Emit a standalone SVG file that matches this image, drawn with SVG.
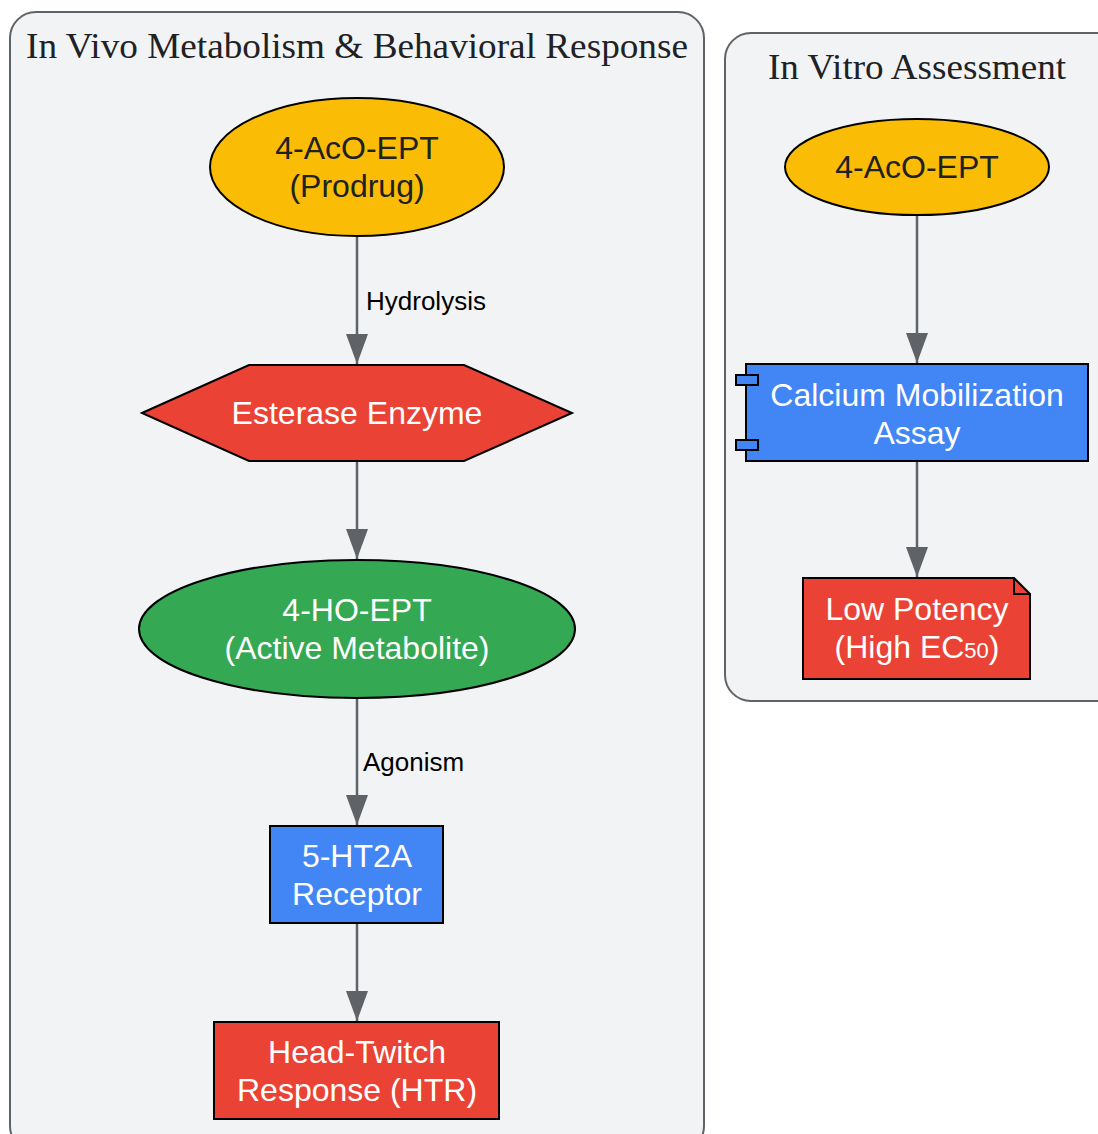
<svg xmlns="http://www.w3.org/2000/svg" width="1098" height="1134" viewBox="0 0 1098 1134">
<defs>
<style>
.cluster{fill:#f1f3f4;stroke:#5f6368;stroke-width:2}
.ctitle{font-family:"Liberation Serif",serif;font-size:36px;fill:#202124;text-anchor:middle}
.node{stroke:#000;stroke-width:2}
.lbl{font-family:"Liberation Sans",Arial,sans-serif;font-size:32px;text-anchor:middle}
.dark{fill:#202124}
.light{fill:#ffffff}
.edge{stroke:#5f6368;stroke-width:2.5;fill:none}
.elbl{font-family:"Liberation Sans",Arial,sans-serif;font-size:26px;fill:#000}
</style>
<marker id="arrow" viewBox="0 0 30 22" refX="30" refY="11" markerWidth="30" markerHeight="22" markerUnits="userSpaceOnUse" orient="auto">
<path d="M0,0 L30,11 L0,22 z" fill="#5f6368"/>
</marker>
</defs>
<g id="clusters">
<rect id="cluster_invivo" class="cluster" x="10" y="12" width="694" height="1140" rx="26"/>
<text class="ctitle" x="357" y="58" textLength="662" lengthAdjust="spacingAndGlyphs">In Vivo Metabolism &amp; Behavioral Response</text>
<rect id="cluster_invitro" class="cluster" x="725" y="33" width="400" height="668" rx="26"/>
<text class="ctitle" x="917" y="79" textLength="298" lengthAdjust="spacingAndGlyphs">In Vitro Assessment</text>
</g>
<g id="edges">
<line class="edge" x1="357" y1="236" x2="357" y2="364" marker-end="url(#arrow)"/>
<text class="elbl" x="366" y="310">Hydrolysis</text>
<line class="edge" x1="357" y1="461" x2="357" y2="559" marker-end="url(#arrow)"/>
<line class="edge" x1="357" y1="698" x2="357" y2="825" marker-end="url(#arrow)"/>
<text class="elbl" x="363" y="771">Agonism</text>
<line class="edge" x1="357" y1="923" x2="357" y2="1021" marker-end="url(#arrow)"/>
<line class="edge" x1="917" y1="215" x2="917" y2="363" marker-end="url(#arrow)"/>
<line class="edge" x1="917" y1="461" x2="917" y2="577" marker-end="url(#arrow)"/>
</g>
<g id="n_prodrug">
<ellipse class="node" cx="357" cy="167" rx="147" ry="69" fill="#fbbc05"/>
<text class="lbl dark" x="357" y="159">4-AcO-EPT</text>
<text class="lbl dark" x="357" y="197">(Prodrug)</text>
</g>
<g id="n_esterase">
<polygon class="node" points="142,413 249,365 464,365 572,413 464,461 249,461" fill="#ea4335"/>
<text class="lbl light" x="357" y="424">Esterase Enzyme</text>
</g>
<g id="n_active">
<ellipse class="node" cx="357" cy="629" rx="218" ry="69" fill="#34a853"/>
<text class="lbl light" x="357" y="621">4-HO-EPT</text>
<text class="lbl light" x="357" y="659">(Active Metabolite)</text>
</g>
<g id="n_receptor">
<rect class="node" x="270" y="826" width="173" height="97" fill="#4285f4"/>
<text class="lbl light" x="357" y="867">5-HT2A</text>
<text class="lbl light" x="357" y="905">Receptor</text>
</g>
<g id="n_htr">
<rect class="node" x="214" y="1022" width="285" height="97" fill="#ea4335"/>
<text class="lbl light" x="357" y="1063">Head-Twitch</text>
<text class="lbl light" x="357" y="1101">Response (HTR)</text>
</g>
<g id="n_prodrug2">
<ellipse class="node" cx="917" cy="167" rx="132" ry="48" fill="#fbbc05"/>
<text class="lbl dark" x="917" y="178">4-AcO-EPT</text>
</g>
<g id="n_assay">
<rect class="node" x="746" y="364" width="342" height="97" fill="#4285f4"/>
<rect class="node" x="736" y="375" width="22" height="10" fill="#4285f4"/>
<rect class="node" x="736" y="440" width="22" height="10" fill="#4285f4"/>
<text class="lbl light" x="917" y="406">Calcium Mobilization</text>
<text class="lbl light" x="917" y="444">Assay</text>
</g>
<g id="n_potency">
<path class="node" d="M803,578 L1014,578 L1030,594 L1030,679 L803,679 Z" fill="#ea4335"/>
<path class="node" d="M1014,578 L1014,594 L1030,594" fill="none"/>
<text class="lbl light" x="917" y="620">Low Potency</text>
<text class="lbl light" x="917" y="658">(High EC<tspan font-size="22">50</tspan>)</text>
</g>
</svg>
